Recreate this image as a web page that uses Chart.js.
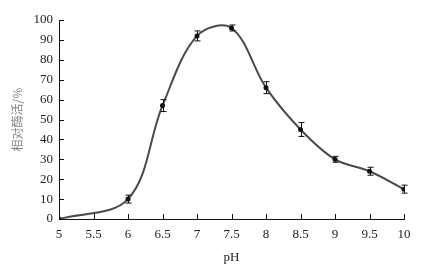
<!DOCTYPE html>
<html>
<head>
<meta charset="utf-8">
<script src="https://cdn.jsdelivr.net/npm/chart.js@4"></script>
<style>
  html, body { margin: 0; padding: 0; background: #fff; }
  #wrap { width: 435px; height: 269px; }
</style>
</head>
<body>
<div id="wrap"><canvas id="chart"></canvas></div>
<script>
// pH vs relative enzyme activity
const phValues = [5, 6, 6.5, 7, 7.5, 8, 8.5, 9, 9.5, 10];
const activity = [0, 10, 57, 92, 96, 66, 45, 30, 24, 15];
const errors = [0, 2, 3, 2.5, 1.5, 3, 3.5, 1.5, 2, 2];
const xTicks = [5, 5.5, 6, 6.5, 7, 7.5, 8, 8.5, 9, 9.5, 10];
const yTicks = [0, 10, 20, 30, 40, 50, 60, 70, 80, 90, 100];

const ctx = document.getElementById('chart').getContext('2d');

// error bars + inward tick marks
const extras = {
  id: 'extras',
  afterDatasetsDraw(chart) {
    const c = chart.ctx;
    const xs = chart.scales.x, ys = chart.scales.y;
    c.save();
    c.strokeStyle = '#111';
    c.lineWidth = 1;
    phValues.forEach((p, i) => {
      if (!errors[i]) return;
      const px = Math.round(xs.getPixelForValue(p)) + 0.5;
      const top = ys.getPixelForValue(activity[i] + errors[i]);
      const bot = ys.getPixelForValue(activity[i] - errors[i]);
      c.beginPath();
      c.moveTo(px, top); c.lineTo(px, bot);
      c.moveTo(px - 3, top); c.lineTo(px + 3, top);
      c.moveTo(px - 3, bot); c.lineTo(px + 3, bot);
      c.stroke();
    });
    const area = chart.chartArea;
    c.beginPath();
    xTicks.forEach(t => {
      const px = Math.round(xs.getPixelForValue(t)) + 0.5;
      c.moveTo(px, area.bottom); c.lineTo(px, area.bottom - 5);
    });
    yTicks.forEach(t => {
      const py = Math.round(ys.getPixelForValue(t)) + 0.5;
      c.moveTo(area.left, py); c.lineTo(area.left + 5, py);
    });
    c.stroke();
    c.restore();
  }
};

new Chart(ctx, {
  type: 'line',
  data: {
    datasets: [{
      data: phValues.map((p, i) => ({ x: p, y: activity[i] })),
      borderColor: '#4a4a4a',
      borderWidth: 2,
      tension: 0.35,
      pointRadius: 2.5,
      pointBackgroundColor: '#111',
      pointBorderColor: '#111',
      pointBorderWidth: 0,
      fill: false
    }]
  },
  options: {
    responsive: true,
    maintainAspectRatio: false,
    animation: false,
    layout: { padding: { top: 20, right: 31, left: 4, bottom: 0 } },
    plugins: { legend: { display: false }, tooltip: { enabled: false } },
    scales: {
      x: {
        type: 'linear',
        min: 5,
        max: 10,
        afterBuildTicks: s => { s.ticks = xTicks.map(v => ({ value: v })); },
        afterFit: s => { s.height = 50; },
        grid: { drawOnChartArea: false, drawTicks: false },
        border: { color: '#111', width: 1 },
        ticks: {
          color: '#222',
          padding: 8,
          callback: v => String(v),
          font: { family: 'Liberation Serif', size: 13 }
        },
        title: {
          display: true,
          text: 'pH',
          color: '#222',
          padding: { top: 4 },
          font: { family: 'Liberation Serif', size: 13 }
        }
      },
      y: {
        min: 0,
        max: 100,
        afterBuildTicks: s => { s.ticks = yTicks.map(v => ({ value: v })); },
        afterFit: s => { s.width = 55; },
        grid: { drawOnChartArea: false, drawTicks: false },
        border: { color: '#111', width: 1 },
        ticks: {
          color: '#222',
          padding: 6,
          font: { family: 'Liberation Serif', size: 13 }
        },
        title: {
          display: true,
          text: '相对酶活/%',
          color: '#888',
          padding: { top: 6, bottom: 0 },
          font: { family: 'Noto Sans CJK SC', size: 12 }
        }
      }
    }
  },
  plugins: [extras]
});
</script>
</body>
</html>
